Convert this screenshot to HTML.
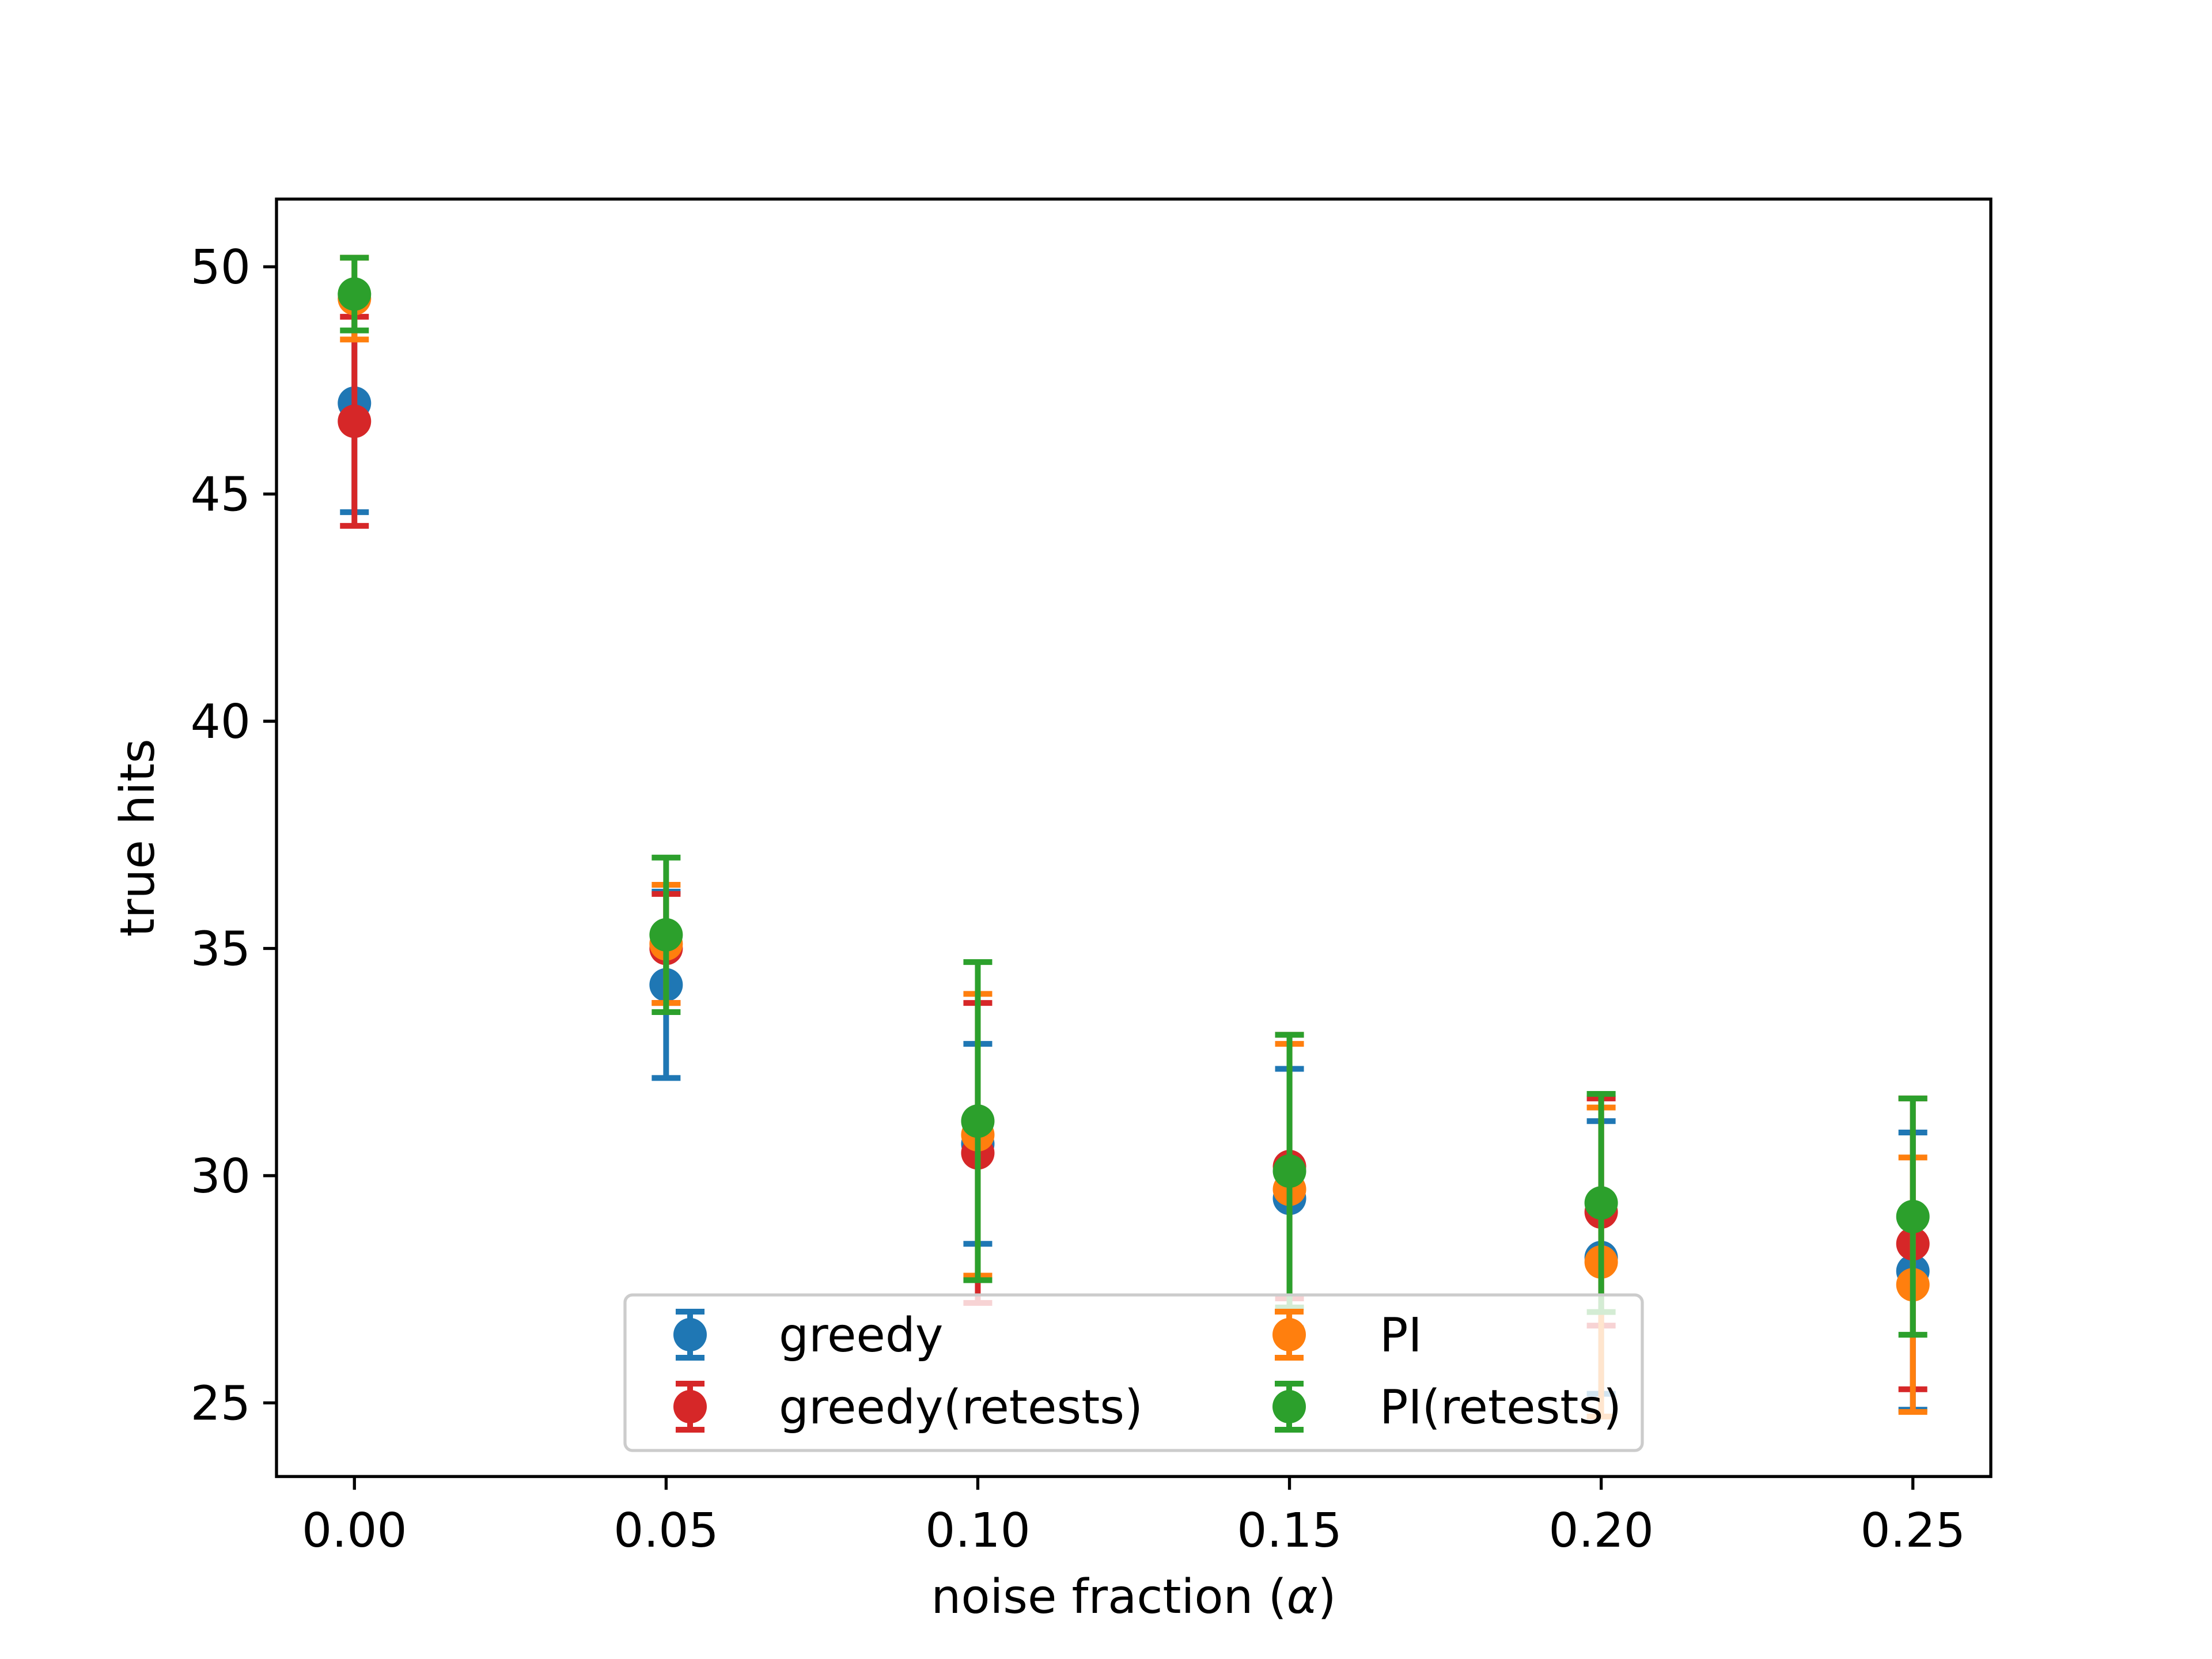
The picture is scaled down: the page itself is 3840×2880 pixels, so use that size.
<!DOCTYPE html>
<html><head><meta charset="utf-8"><style>
html,body{margin:0;padding:0;background:#fff}
svg{display:block;font-family:"DejaVu Sans","Liberation Sans",sans-serif}
</style></head><body>
<svg id="chart" width="3840" height="2880" viewBox="0 0 3840 2880" xmlns="http://www.w3.org/2000/svg">
<rect width="3840" height="2880" fill="#fff"/>
<g id="marks"></g>
<g id="axes"></g>
</svg>
<script>
const categories = [0, 0.05, 0.10, 0.15, 0.20, 0.25];
const seriesNames = ["greedy", "greedy(retests)", "PI", "PI(retests)"];
const greedyVals = [47.0, 34.2, 30.7, 29.5, 28.2, 27.9];
const greedyErr  = [2.4, 2.05, 2.2, 2.85, 3.0, 3.05];
const greedyRetVals = [46.6, 35.0, 30.5, 30.2, 29.2, 28.5];
const greedyRetErr  = [2.3, 1.2, 3.3, 2.9, 2.5, 3.2];
const piVals = [49.3, 35.1, 30.9, 29.7, 28.1, 27.6];
const piErr  = [0.9, 1.3, 3.1, 3.2, 3.4, 2.8];
const piRetVals = [49.4, 35.3, 31.2, 30.1, 29.4, 29.1];
const piRetErr  = [0.8, 1.7, 3.5, 3.0, 2.4, 2.6];
const xTicks = ["0.00","0.05","0.10","0.15","0.20","0.25"];
const yTicks = [25, 30, 35, 40, 45, 50];

const L=480,R=3456,T=345.6,B=2563.2;
const xmin=-0.0125,xmax=0.2625,ymin=23.38,ymax=51.49;
const X=v=>L+(v-xmin)/(xmax-xmin)*(R-L);
const Y=v=>B-(v-ymin)/(ymax-ymin)*(B-T);
const NS="http://www.w3.org/2000/svg";
const FS=82;
function mk(tag,attrs,parent){const e=document.createElementNS(NS,tag);for(const k in attrs)e.setAttribute(k,attrs[k]);parent.appendChild(e);return e;}
const marks=document.getElementById('marks'),axes=document.getElementById('axes');
const colors=["#1f77b4","#d62728","#ff7f0e","#2ca02c"];
const vals=[greedyVals,greedyRetVals,piVals,piRetVals];
const errs=[greedyErr,greedyRetErr,piErr,piRetErr];
const keys=["greedy","greedy-retests","pi","pi-retests"];
for(let s=0;s<4;s++){
  const g=mk('g',{},marks);
  
  
  categories.forEach((c,i)=>{
    const x=X(c),v=vals[s][i],e=errs[s][i];
    const bar=mk('line',{x1:x,x2:x,y1:Y(v-e),y2:Y(v+e),stroke:colors[s],'stroke-width':10},g);
    
    
    [v-e,v+e].forEach(cv=>{const cap=mk('line',{x1:x-25,x2:x+25,y1:Y(cv),y2:Y(cv),stroke:colors[s],'stroke-width':10},g);
      
      });
    const pt=mk('circle',{cx:x,cy:Y(v),r:29,fill:colors[s]},g);
    
    
  });
}
const fr=mk('rect',{x:L,y:T,width:R-L,height:B-T,fill:'none',stroke:'#000','stroke-width':5.3},axes);


categories.forEach((c,i)=>{
  const x=X(c);
  mk('line',{x1:x,x2:x,y1:B,y2:B+23,stroke:'#000','stroke-width':5.3},axes);
  const t=mk('text',{x:x,y:B+122,'font-size':FS,'text-anchor':'middle'},axes);
  t.textContent=xTicks[i];
  
  
});
yTicks.forEach(v=>{
  const y=Y(v);
  mk('line',{x1:L,x2:L-23,y1:y,y2:y,stroke:'#000','stroke-width':5.3},axes);
  const t=mk('text',{x:L-45,y:y+29,'font-size':FS,'text-anchor':'end'},axes);
  t.textContent=v;
  
  
});
const xl=mk('text',{x:(L+R)/2,y:2800,'font-size':FS,'text-anchor':'middle'},axes);
xl.innerHTML='noise fraction (<tspan font-style="italic">α</tspan>)';


const yl=mk('text',{x:0,y:0,'font-size':FS,'text-anchor':'middle',transform:'translate(267,'+((T+B)/2)+') rotate(-90)'},axes);
yl.textContent='true hits';


const lg=mk('g',{},axes);


mk('rect',{x:1085,y:2248,width:1766,height:270,rx:13,fill:'#fff','fill-opacity':0.8,stroke:'#ccc','stroke-width':5.3},lg);
const lx=[1198,1198,2238,2238],ly=[2317,2442,2317,2442],tx=[1352,1352,2395,2395];
for(let s=0;s<4;s++){
  const e=mk('g',{},lg);
  
  
  mk('line',{x1:lx[s],x2:lx[s],y1:ly[s]-40,y2:ly[s]+40,stroke:colors[s],'stroke-width':10},e);
  mk('line',{x1:lx[s]-25,x2:lx[s]+25,y1:ly[s]-40,y2:ly[s]-40,stroke:colors[s],'stroke-width':10},e);
  mk('line',{x1:lx[s]-25,x2:lx[s]+25,y1:ly[s]+40,y2:ly[s]+40,stroke:colors[s],'stroke-width':10},e);
  mk('circle',{cx:lx[s],cy:ly[s],r:29,fill:colors[s]},e);
  const t=mk('text',{x:tx[s],y:ly[s]+29,'font-size':FS},e);
  t.textContent=seriesNames[s];
}
</script>
</body></html>
